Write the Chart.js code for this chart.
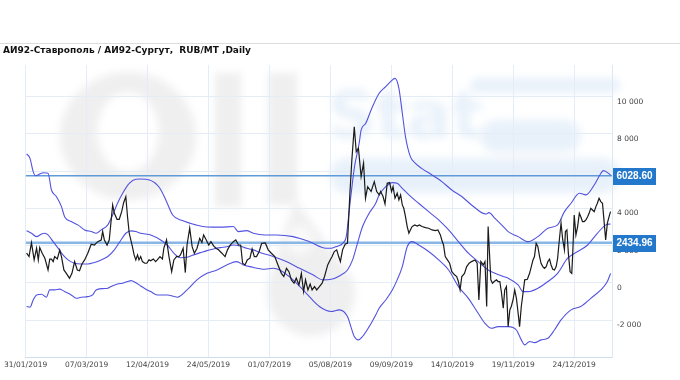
<!DOCTYPE html>
<html lang="ru">
<head>
<meta charset="UTF-8">
<title>АИ92-Ставрополь / АИ92-Сургут</title>
<script src="https://cdn.jsdelivr.net/npm/chart.js"></script>
<style>
    body { margin: 0; background: #fff; }
    .wrap { position: relative; width: 680px; height: 380px; }
    .sep { position: absolute; left: 0; top: 43px; width: 680px; height: 1px; background: #dcdcdc; }
    .title { position: absolute; left: 3px; top: 45px; font: bold 9px "DejaVu Sans", Verdana, sans-serif; color: #111; white-space: pre; }
    canvas { position: absolute; left: 0; top: 0; }
</style>
</head>
<body>
<div class="wrap">
    <canvas id="spreadChart" width="680" height="380"></canvas>
    <div class="sep"></div>
    <div class="title">АИ92-Ставрополь / АИ92-Сургут,  RUB/MT ,Daily</div>
</div>
<script>
// x = trading day counted from 31/01/2019
const xTickIdx = [0, 25, 50, 75, 100, 125, 150, 175, 200, 225];
const xTickLabels = ['31/01/2019', '07/03/2019', '12/04/2019', '24/05/2019', '01/07/2019',
    '05/08/2019', '09/09/2019', '14/10/2019', '19/11/2019', '24/12/2019'];
const yTickValues = [-2000, 0, 2000, 4000, 6000, 8000, 10000];
const levels = [6028.60, 2434.96];

// spread, RUB/MT  [day, value]
const spread = [
    [0.4,1870],[1.4,1690],[2.4,2440],[3.5,1510],[4.5,2140],[5.2,1510],[5.8,2170],[6.8,1870],[7.9,1600],[9.2,970],
    [9.9,1550],[10.6,1550],[11.3,1420],[11.9,1690],[13,1560],[14,2040],[14.7,1690],[15.7,970],[16.7,790],[18,530],
    [19,790],[20.1,1420],[21.2,970],[22.1,930],[23.1,1290],[24.2,1510],[25.5,1870],[26.9,2350],[28.2,2310],[29.6,2490],
    [31,2580],[31.6,3030],[32.3,2580],[33.4,2310],[34.3,2580],[35.7,4460],[36.4,4010],[37.5,3690],[38.4,3690],[39.4,4100],
    [40.2,4580],[41.1,4900],[41.8,3830],[42.5,2940],[43.8,2220],[44.5,1780],[45.2,1510],[45.9,1780],[46.5,1510],[47.2,1690],
    [47.9,1420],[48.9,1330],[49.7,1330],[50.6,1510],[51.3,1460],[52.4,1560],[53.3,1420],[54,1510],[55.1,1690],[56.1,1560],
    [56.7,2140],[57.8,2580],[58.8,1690],[59.9,880],[60.8,1510],[61.9,1690],[62.8,1690],[63.5,1780],[64.6,2140],[65.5,830],
    [66.2,2310],[67.3,3210],[68.3,2220],[69.2,1870],[70.3,2140],[71.4,2670],[72.3,2440],[73,2850],[74.1,2580],[75.1,2310],
    [76,2490],[77.1,2260],[78.2,2120],[79.1,2050],[80.5,1870],[81.8,1690],[82.8,2050],[83.9,2310],[85.2,2490],[86.2,2580],
    [87.3,2310],[88.2,2310],[89,1330],[90,1240],[90.9,1510],[92,1600],[92.9,2100],[93.8,1690],[94.7,1690],[95.8,1960],
    [96.8,2400],[98.3,2420],[99.5,2050],[100.8,1870],[102.2,1690],[103.5,1240],[104.9,790],[105.9,620],[107,1060],[108,880],
    [109,440],[110.1,260],[111,530],[112.1,170],[113.1,790],[114,-190],[114.8,440],[115.8,-100],[116.7,220],[117.5,-100],
    [118.5,80],[119.4,-100],[120.5,80],[121.6,260],[122.6,620],[123.9,1240],[124.9,1510],[125.7,1690],[126.6,1960],[127.6,2050],
    [128.4,1690],[129.1,1420],[130,2050],[131.1,2370],[132,2400],[133,5090],[133.8,6870],[134.8,8660],[135.6,7320],[136.5,7500],
    [137.6,5980],[138.6,6700],[139.4,4820],[140.3,5440],[141.7,5180],[143,5710],[144,5180],[145,5000],[145.6,5180],[146.6,4910],
    [147.4,4510],[148.3,5620],[149.3,5660],[150.1,5180],[150.7,5440],[151.5,4820],[152.4,5090],[153.1,4730],[153.8,5000],[154.5,4460],
    [155.1,4280],[155.8,3830],[156.5,3300],[157.2,2940],[157.8,3120],[158.5,3300],[159.6,3390],[160.6,3330],[161.5,3390],[162.6,3300],
    [164,3240],[165.3,3210],[166.7,3120],[168,3080],[169.1,3120],[170.1,2850],[170.7,2580],[171.4,2310],[172.1,1690],[173,1510],
    [173.9,1330],[174.8,880],[175.9,710],[176.8,620],[177.5,350],[178.2,-100],[178.9,620],[180,790],[180.9,1150],[181.9,1330],
    [182.9,1420],[184.3,1510],[185.2,1330],[185.9,-640],[186.7,1420],[187.7,1240],[188.4,1420],[189.1,-990],[189.7,3300],[190.8,440],
    [191.5,260],[192.2,350],[193.1,440],[193.8,350],[194.5,350],[195.2,-280],[195.9,-1080],[196.5,-100],[197.2,80],[197.9,-2070],
    [198.6,-1170],[199.2,-990],[199.9,-640],[200.6,-100],[201.3,-550],[202,-1350],[202.6,-2070],[203.3,-990],[204,-280],[204.7,440],
    [205.8,470],[206.7,790],[207.4,1150],[208.1,1510],[208.7,1690],[209.4,2400],[210.1,2220],[210.8,1690],[211.4,1330],[212.1,1150],
    [212.8,1060],[213.5,1150],[214.2,1420],[214.9,1550],[215.5,1240],[216.2,1010],[216.9,970],[217.6,1150],[218.2,1600],[218.9,2580],
    [219.6,3480],[220.3,2580],[221,2050],[221.4,3030],[222,3120],[222.6,1870],[223.3,880],[224,790],[224.4,1870],[225,3920],
    [225.7,2850],[226.4,3300],[227.1,4010],[227.7,3830],[228.4,3570],[229.1,3570],[229.8,3660],[230.5,3830],[231.1,4010],[231.8,4280],
    [232.5,4190],[233.2,4100],[233.9,4370],[234.5,4550],[235.2,4820],[235.9,4640],[236.6,4550],[237.2,3660],[237.9,2580],[238.6,3480],
    [239.3,3830],[239.9,4100]
];

// bollinger-style bands
const upperBand = [
    [0.4,7200],[1.8,6960],[3.1,6250],[4.1,6030],[5.8,6120],[7.2,6190],[9.2,6160],[10.6,5260],[12.6,4910],[14.7,4370],
    [16,3830],[18.7,3570],[21.4,3390],[24.2,3120],[26.9,3030],[28.9,2940],[31,3120],[33.7,3390],[35.7,3920],[37.7,4550],
    [39.8,5090],[42.5,5620],[45.2,5840],[47.2,5850],[50.8,5800],[54.8,5410],[57.5,4730],[60.3,3920],[64.3,3620],[69.8,3390],
    [74.4,3280],[80,3270],[85.2,3300],[87.3,3030],[90.6,3080],[93.4,2940],[98.1,2850],[102.9,2850],[109.7,2760],[116.4,2490],
    [123.2,2140],[125.4,2140],[127.3,2220],[130.7,2490],[131.5,2760],[132.9,4370],[134.9,6520],[136.8,7770],[137.6,8480],[139.5,8840],
    [141.7,9560],[145,10450],[147.7,10810],[149.7,11080],[151.5,11250],[153.1,10720],[154.5,9380],[155.8,8130],[157.8,7050],[159.9,6690],
    [162.4,6420],[166.7,6070],[170.7,5710],[175.2,5220],[178.9,4910],[182.9,4460],[188.8,3970],[190,4050],[192.5,3740],[195.9,3300],
    [197.9,3030],[202,2760],[206.1,2490],[210.1,2760],[214.2,3210],[218.2,3390],[221,4100],[223.7,4550],[227.1,5090],[229.8,5000],
    [233.2,5530],[235.9,6150],[237,6300],[239.9,6070]
];
const middleBand = [
    [0.4,3080],[2.4,2940],[4.5,2760],[6.5,2900],[7.9,2940],[9.2,2850],[11.3,2490],[13.3,2140],[15.3,1780],[17.4,1510],
    [20.1,1330],[22.8,1290],[25.5,1290],[28.2,1370],[31,1510],[33.7,1690],[36.4,2050],[39.1,2580],[41.1,2940],[43.2,3070],
    [45.2,3030],[47.2,2940],[49.3,2900],[51.3,2850],[55.4,2580],[58.1,2310],[60.8,1870],[63.5,1630],[66.2,1650],[68.9,1780],
    [71.7,1900],[74.4,2010],[77.1,2100],[79.8,2170],[82.5,2220],[85.2,2310],[87.9,2260],[90.6,2140],[93.4,2050],[96.1,1910],
    [101.5,1690],[106.9,1420],[112.4,1060],[117.8,710],[121.9,440],[125.3,470],[128.7,650],[132,970],[134.1,1510],[136.1,2400],
    [138.2,3300],[140.9,4010],[143.6,4550],[145,5000],[147.7,5440],[150.4,5660],[152.4,5620],[154.5,5350],[157.2,5000],[161.2,4550],
    [165.3,4100],[169.4,3660],[173.5,3120],[177.5,2490],[181.6,1870],[185.6,1420],[189.7,970],[192.5,790],[195.9,620],[197.9,530],
    [202,170],[204,-190],[206.1,-190],[210.1,-10],[214.2,350],[218.2,790],[222.3,1600],[226.4,1960],[230.5,2310],[234.5,2940],
    [238,3390],[239.9,3440]
];
const lowerBand = [
    [0.4,-990],[1.8,-1030],[3.1,-640],[4.5,-370],[6.5,-330],[8.5,-490],[9.9,-100],[11.9,-100],[14,-60],[16,-190],
    [18.7,-370],[20.8,-550],[22.8,-490],[25.5,-460],[27.5,-370],[28.9,-100],[31.6,-30],[33.7,-10],[35,80],[37.7,220],
    [39.8,260],[41.8,350],[43.2,400],[45.2,290],[47.2,110],[49.3,-60],[51.3,-190],[54,-370],[58.1,-370],[62.2,-490],
    [66.2,-100],[70.3,440],[74.4,790],[78.5,970],[82.5,1240],[86.6,1420],[89.3,1240],[92,1150],[98.1,1010],[101.5,1060],
    [104.2,970],[109.7,440],[115.1,-280],[120.5,-990],[125.3,-1260],[128.7,-1170],[132,-1530],[133.4,-2070],[134.8,-2600],[136.5,-2780],
    [138.2,-2600],[140.9,-2070],[143.6,-1440],[145,-1080],[147.7,-640],[150.4,-100],[152.4,440],[154.5,1150],[156.5,2220],[158.5,2490],
    [161.2,2310],[165.3,1960],[169.4,1510],[173.5,970],[177.5,80],[181.6,-550],[185.6,-1350],[188.4,-1890],[191.1,-2160],[193.8,-2070],
    [197.9,-2070],[201.3,-2250],[203.3,-2780],[204.7,-3050],[206.7,-2870],[208.7,-2930],[211.4,-2780],[214.2,-2690],[216.9,-2250],[219.6,-1710],
    [223.7,-1170],[227.7,-990],[231.8,-550],[235.9,-100],[238.6,350],[239.9,790]
];

const X_MIN = 0, X_MAX = 240.5;
const pts = arr => arr.map(p => ({ x: p[0], y: p[1] }));
const gridColor = '#e4edf6';
const tickFont = { family: 'DejaVu Sans', size: 7.5 };

function fmt(v) {
    const s = String(Math.abs(v)).replace(/\B(?=(\d{3})+(?!\d))/g, ' ');
    return (v < 0 ? '-' : '') + s;
}

// faded OilStat logo behind the plot
const watermark = {
    id: 'watermark',
    beforeDraw(chart) {
        const ctx = chart.ctx;
        ctx.save();
        ctx.filter = 'blur(4px)';
        ctx.fillStyle = '#efefef';
        ctx.beginPath();
        ctx.ellipse(128, 136, 68, 64, 0, 0, Math.PI * 2);
        ctx.ellipse(128, 132, 31, 40, 0, 0, Math.PI * 2);
        ctx.fill('evenodd');
        ctx.fillRect(215, 73, 26, 134);
        ctx.fillRect(268, 73, 29, 132);
        ctx.beginPath();
        ctx.moveTo(295, 200);
        ctx.lineTo(352, 278);
        ctx.arc(311, 292, 44, -0.3, Math.PI + 0.4);
        ctx.closePath();
        ctx.fill();
        ctx.fillStyle = '#f9f9f9';
        ctx.beginPath();
        ctx.ellipse(300, 240, 14, 15, 0, 0, Math.PI * 2);
        ctx.fill();
        ctx.fillStyle = '#e8f1fa';
        ctx.font = 'bold 66px "DejaVu Sans"';
        ctx.fillText('Stat', 328, 138);
        ctx.beginPath();
        ctx.roundRect(470, 78, 150, 15, 7);
        ctx.roundRect(480, 120, 101, 32, 16);
        ctx.roundRect(330, 158, 290, 35, 17);
        ctx.fill();
        ctx.restore();
    }
};

// value boxes on the right edge
const levelBoxes = {
    id: 'levelBoxes',
    afterDraw(chart) {
        const ctx = chart.ctx;
        const y = chart.scales.y;
        const left = chart.chartArea.right + 1;
        ctx.save();
        levels.forEach(v => {
            const py = Math.round(y.getPixelForValue(v));
            ctx.fillStyle = '#2478cc';
            ctx.fillRect(left, py - 8, 43, 17);
            ctx.fillStyle = '#fff';
            ctx.font = 'bold 10px "Liberation Sans"';
            ctx.textAlign = 'center';
            ctx.textBaseline = 'middle';
            ctx.fillText(v.toFixed(2), left + 21.5, py + 0.5);
        });
        ctx.restore();
    }
};

const datasets = [
    { data: pts(spread), borderColor: '#1a1a1a', borderWidth: 1.2 },
    { data: pts(upperBand), borderColor: '#5252e0', borderWidth: 1.1, cubicInterpolationMode: 'monotone' },
    { data: pts(middleBand), borderColor: '#5252e0', borderWidth: 1.1, cubicInterpolationMode: 'monotone' },
    { data: pts(lowerBand), borderColor: '#5252e0', borderWidth: 1.1, cubicInterpolationMode: 'monotone' },
    { data: [{ x: X_MIN, y: levels[0] }, { x: X_MAX, y: levels[0] }], borderColor: '#5f9bd8', borderWidth: 1.5 },
    { data: [{ x: X_MIN, y: levels[1] }, { x: X_MAX, y: levels[1] }], borderColor: '#8ab6e6', borderWidth: 2.5 }
];
datasets.forEach(d => { d.pointRadius = 0; d.fill = false; });

new Chart(document.getElementById('spreadChart').getContext('2d'), {
    type: 'line',
    data: { datasets: datasets },
    plugins: [watermark, levelBoxes],
    options: {
        responsive: false,
        animation: false,
        events: [],
        layout: { padding: { left: 22, top: 65, right: 0, bottom: 0 } },
        plugins: { legend: { display: false }, tooltip: { enabled: false } },
        scales: {
            x: {
                type: 'linear',
                min: X_MIN,
                max: X_MAX,
                afterBuildTicks: s => { s.ticks = xTickIdx.map(v => ({ value: v })); },
                afterFit: s => { s.height = 23; },
                ticks: {
                    callback: v => xTickLabels[xTickIdx.indexOf(v)],
                    font: tickFont, color: '#444', padding: 4, maxRotation: 0, autoSkip: false
                },
                grid: { color: gridColor, drawTicks: false },
                border: { color: '#cfdeee' }
            },
            y: {
                position: 'right',
                min: -3700,
                max: 11970,
                afterBuildTicks: s => { s.ticks = yTickValues.map(v => ({ value: v })); },
                afterFit: s => { s.width = 68; },
                ticks: { callback: v => fmt(v), font: tickFont, color: '#444', padding: 5 },
                grid: { drawOnChartArea: false, drawTicks: false },
                border: { color: '#dde8f3' }
            },
            // gridlines sit a few px above the labels in the original
            yg: {
                position: 'left',
                min: -3980,
                max: 11690,
                afterBuildTicks: s => { s.ticks = yTickValues.map(v => ({ value: v })); },
                afterFit: s => { s.width = 0; },
                ticks: { display: false },
                grid: { color: gridColor, drawTicks: false },
                border: { display: false }
            }
        }
    }
});
</script>
</body>
</html>
